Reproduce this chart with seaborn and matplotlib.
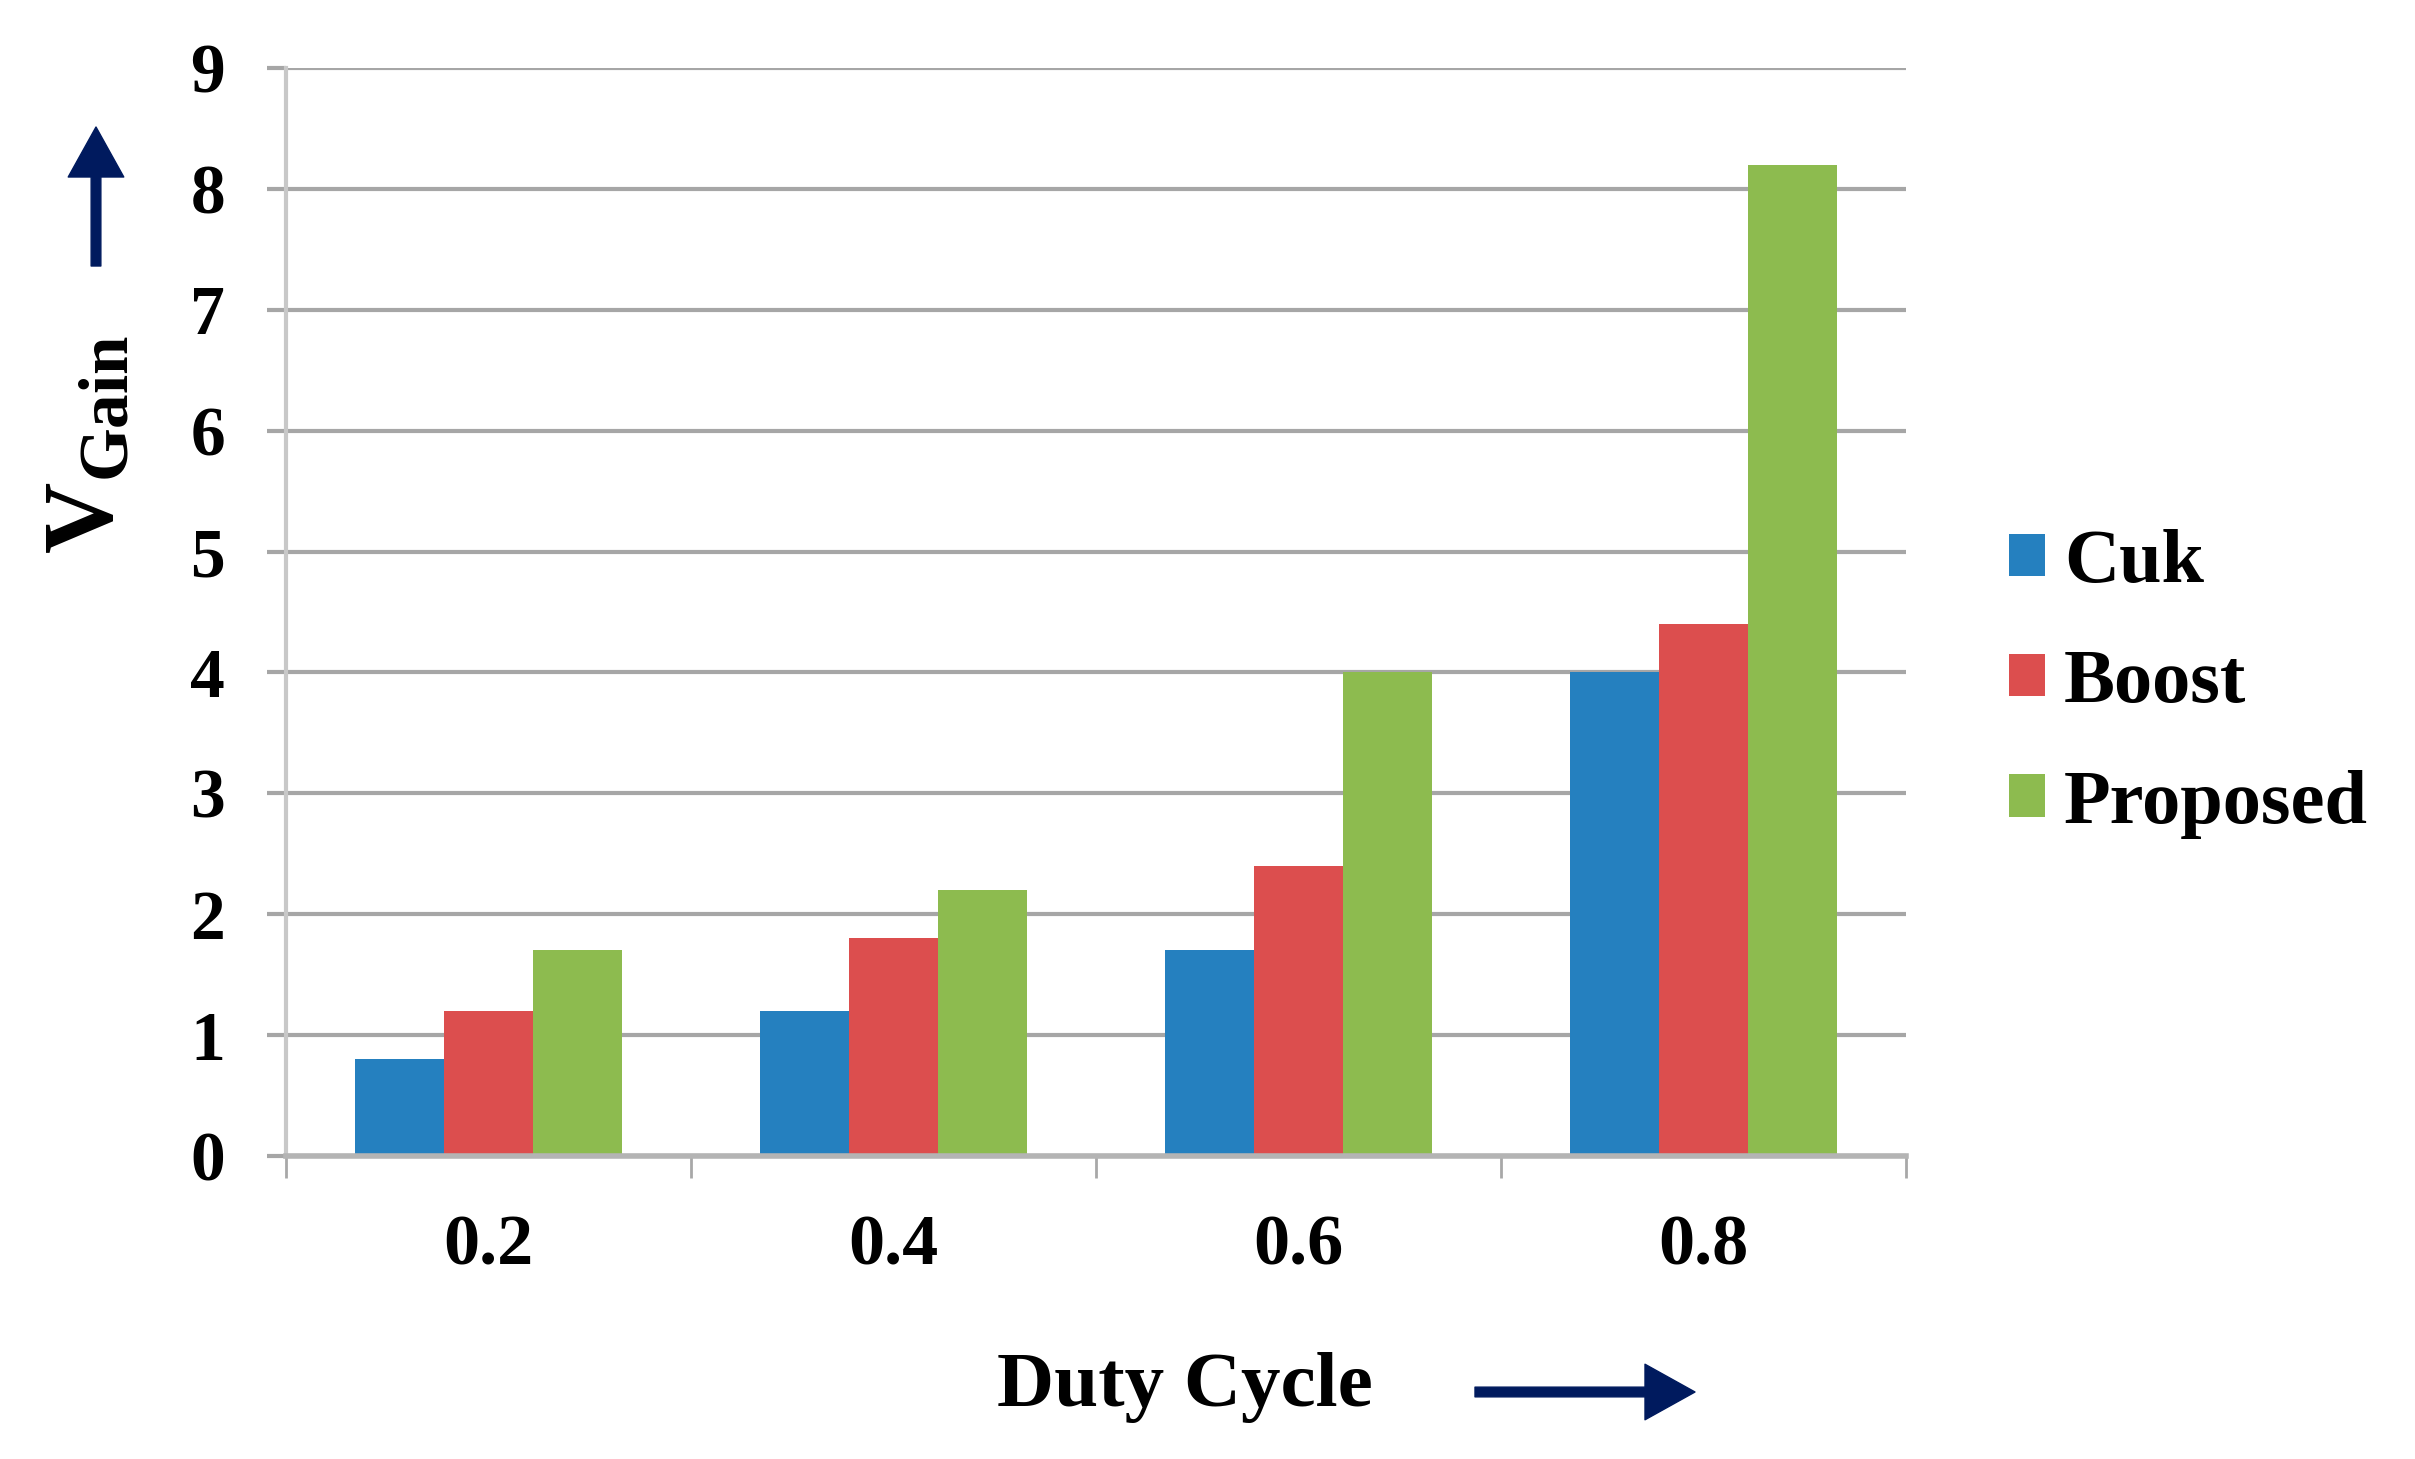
import matplotlib
matplotlib.use("Agg")
import matplotlib.pyplot as plt
from matplotlib.patches import Patch
import pandas as pd
import seaborn as sns

duty = ["0.2", "0.4", "0.6", "0.8"]
cuk = [0.8, 1.2, 1.7, 4.0]
boost = [1.2, 1.8, 2.4, 4.4]
proposed = [1.7, 2.2, 4.0, 8.2]
series = ["Cuk", "Boost", "Proposed"]
colors = ["#2580BF", "#DC4E4E", "#8DBB4F"]

df = pd.DataFrame({
    "Duty Cycle": duty * 3,
    "Gain": cuk + boost + proposed,
    "Converter": [s for s in series for _ in duty],
})

sns.set_style("white")
plt.rcParams["font.family"] = ["Liberation Serif", "DejaVu Serif"]
plt.rcParams["font.weight"] = "bold"
plt.rcParams["text.color"] = "black"
plt.rcParams["xtick.color"] = "black"
plt.rcParams["ytick.color"] = "black"
plt.rcParams["mathtext.fontset"] = "custom"
plt.rcParams["mathtext.bf"] = "Liberation Serif:bold"
plt.rcParams["mathtext.rm"] = "Liberation Serif:bold"

W, H = 2415, 1459
fig = plt.figure(figsize=(W / 100, H / 100), dpi=100)
ax = fig.add_axes([286 / W, 1 - 1156 / H, (1906 - 286) / W, (1156 - 68) / H])

sns.barplot(data=df, x="Duty Cycle", y="Gain", hue="Converter",
            palette=colors, width=0.66, saturation=1, legend=False,
            linewidth=0, ax=ax)

ax.set_xlim(-0.5, 3.5)
ax.set_ylim(0, 9)
ax.set_yticks(range(10))
ax.set_xticks(range(4))
ax.set_xticklabels(duty)
ax.set_xticks([-0.5, 0.5, 1.5, 2.5, 3.5], minor=True)
ax.set_xlabel("")
ax.set_ylabel("")

ax.set_axisbelow(True)
ax.yaxis.grid(True, color="#A6A6A6", lw=3)
ax.xaxis.grid(False)

ax.tick_params(axis="x", which="major", length=0, pad=42, labelsize=52,
               labelcolor="black")
ax.tick_params(axis="x", which="minor", length=16, width=2, color="#A8A8A8",
               direction="out", bottom=True)
ax.tick_params(axis="y", length=14, width=3, color="#A6A6A6", pad=30,
               labelsize=50, left=True, labelcolor="black")
for lab in ax.get_xticklabels() + ax.get_yticklabels():
    lab.set_fontweight("bold")

for s in ["top", "right"]:
    ax.spines[s].set_visible(False)
ax.spines["left"].set_color("#C8C8C8")
ax.spines["left"].set_linewidth(3)
ax.spines["bottom"].set_color("#B4B4B4")
ax.spines["bottom"].set_linewidth(4)

handles = [Patch(facecolor=c, edgecolor="none") for c in colors]
fig.legend(handles, series, loc="center left", bbox_to_anchor=(2009 / W, 1 - 684 / H),
           frameon=False, handlelength=0.47, handleheight=0.47,
           handletextpad=0.25, labelspacing=0.67, borderpad=0, borderaxespad=0,
           prop={"weight": "bold", "size": 55})

fig.text(88 / W, 1 - 445 / H, r"$\mathbf{V}_{\mathbf{Gain}}$", rotation=90,
         ha="center", va="center", fontsize=71)
fig.text(1185 / W, 1 - 1406 / H, "Duty Cycle", ha="center", va="baseline",
         fontsize=57, fontweight="bold")

navy = "#001A5E"
arrow = dict(width=7, headwidth=40, headlength=36, shrink=0, color=navy)
ax.annotate("", xy=(96, H - 127), xytext=(96, H - 266), xycoords="figure pixels",
            textcoords="figure pixels", arrowprops=arrow, annotation_clip=False)
ax.annotate("", xy=(1695, H - 1392), xytext=(1475, H - 1392), xycoords="figure pixels",
            textcoords="figure pixels", arrowprops=arrow, annotation_clip=False)

fig.savefig("out.png", dpi=100)
